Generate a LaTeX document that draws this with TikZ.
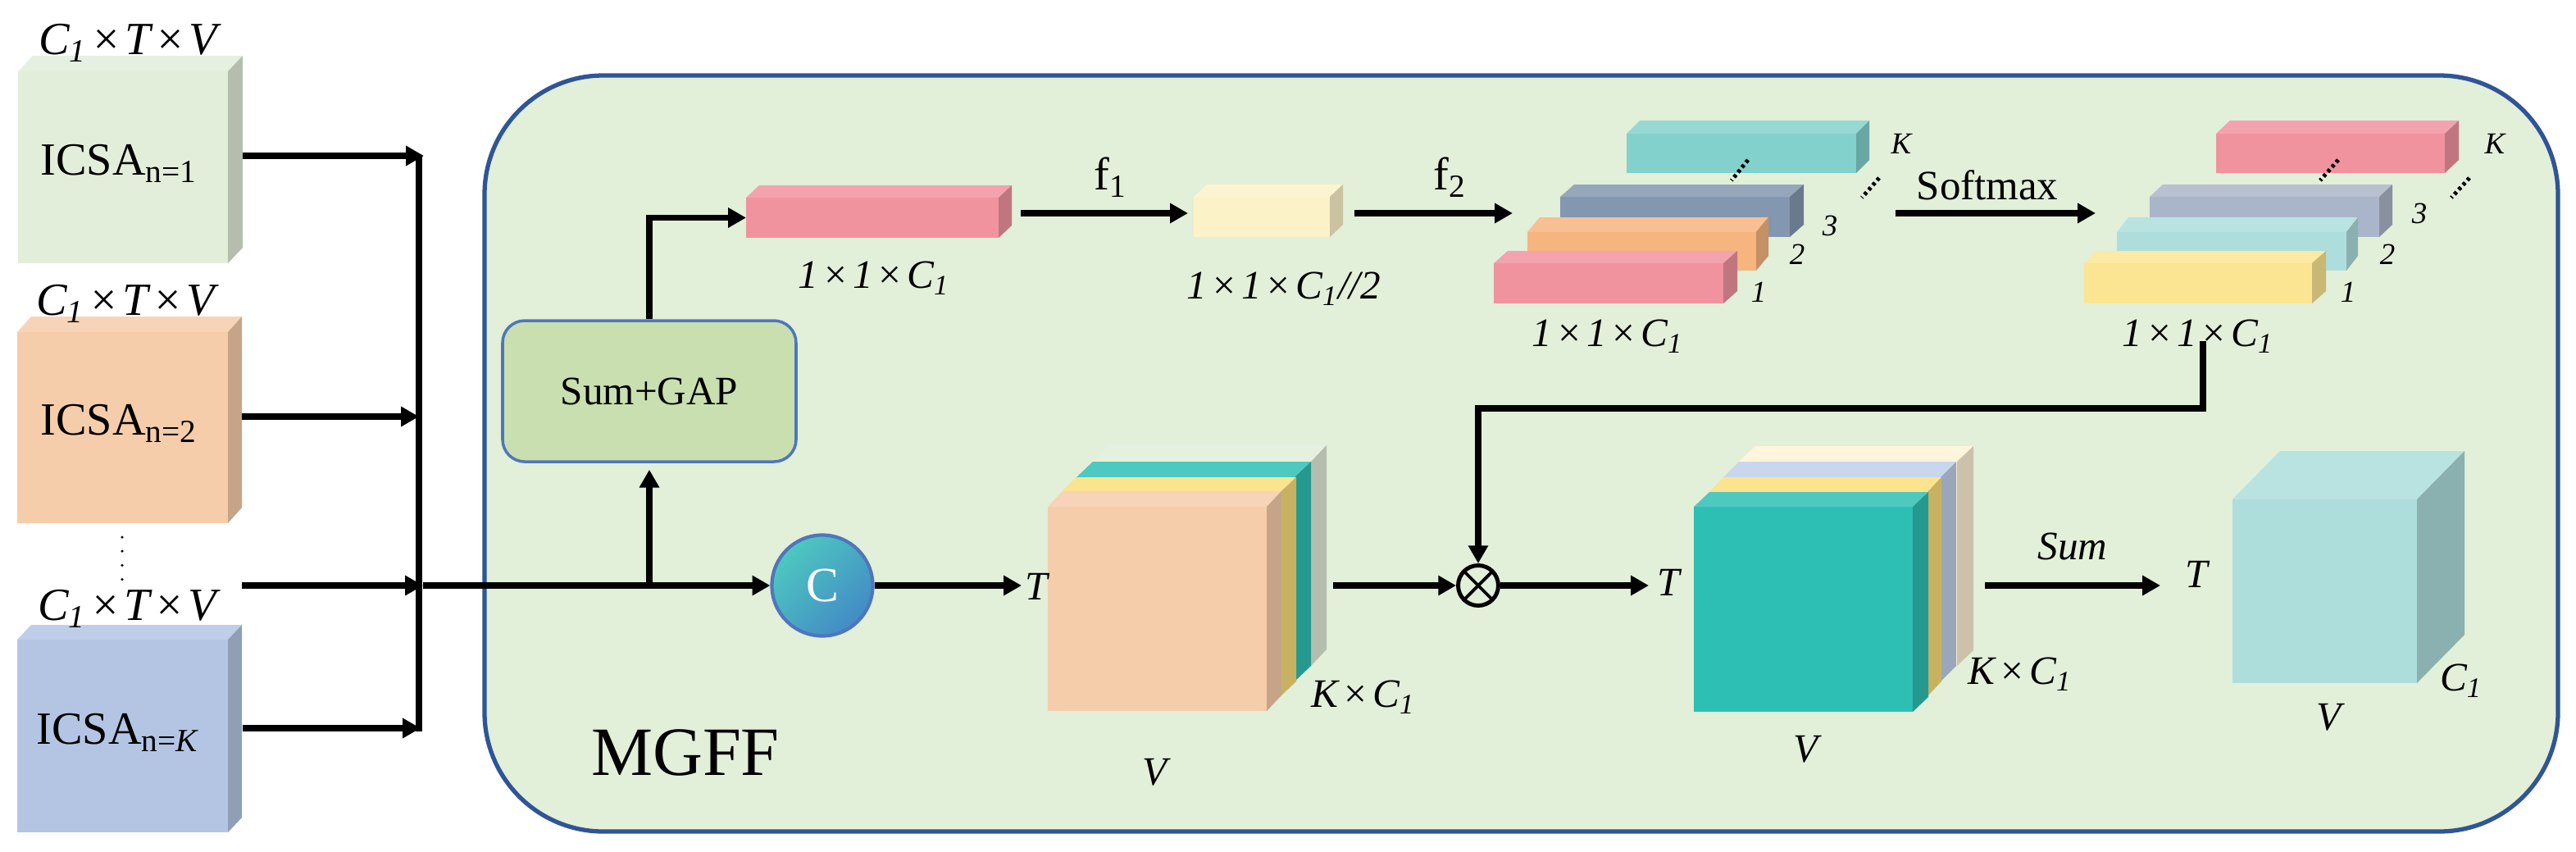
\documentclass[tikz,border=0pt]{standalone}
\usepackage{fontspec}
\setmainfont{Liberation Serif}
\usetikzlibrary{arrows.meta, calc, fit}
\definecolor{Panel}    {HTML}{E2EFD9}
\definecolor{PanelLine}{HTML}{2F5597}
\definecolor{BoxFill}  {HTML}{C9DFB0}
\definecolor{BoxLine}  {HTML}{4F76BC}
\definecolor{Sage}     {HTML}{E2EEDA}
\definecolor{Peach}    {HTML}{F6CDAA}
\definecolor{Periwinkle}{HTML}{B4C5E4}
\definecolor{Rose}     {HTML}{F0939F}
\definecolor{Butter}   {HTML}{FCF2C8}
\definecolor{Apricot}  {HTML}{F6B47F}
\definecolor{Slate}    {HTML}{8497B0}
\definecolor{Lagoon}   {HTML}{83D1CC}
\definecolor{Mist}     {HTML}{ABB5C9}
\definecolor{Aqua}     {HTML}{ADDEDC}
\definecolor{Sunny}    {HTML}{FBE592}
\definecolor{Sun}      {HTML}{FADF7A}
\definecolor{Jade}     {HTML}{2EBFB4}
\definecolor{Powder}   {HTML}{C0D0EA}
\definecolor{Vanilla}  {HTML}{FFF3D6}
\tikzset{
  flow arrow/.style={-{Triangle[length=6.2pt,width=6.6pt]}, line width=2.2pt},
  flow line/.style={line width=2.2pt},
}
\newcommand{\bytimes}{\kern1.2pt×\kern1.2pt}
\newcommand{\Cone}{C\textsubscript{1}}
% name, colour, front nw, front se, depth x, depth y
\newcommand{\slab}[6]{
  \node[fit={(#3)(#4)}, inner sep=0pt, outer sep=0pt, fill=#2] (#1) {};
  \fill[#2!85!white] (#1.north west) -- ++(#5,#6) -- ($(#1.north east)+(#5,#6)$) -- (#1.north east) -- cycle;
  \fill[#2!80!black] (#1.north east) -- ++(#5,#6) -- ($(#1.south east)+(#5,#6)$) -- (#1.south east) -- cycle;
}

\begin{document}
\begin{tikzpicture}[
    panel/.style={draw=PanelLine, fill=Panel, line width=1.5pt, rounded corners=1.45cm,
                  inner sep=0pt, outer sep=0pt},
    gapbox/.style={draw=BoxLine, fill=BoxFill, line width=1pt, rounded corners=0.27cm,
                   minimum width=3.58cm, minimum height=1.72cm,
                   font=\fontsize{14}{16}\selectfont},
    concatnode/.style={circle, draw=BoxLine, line width=1.2pt, minimum size=1.23cm, inner sep=0pt,
                       left color=Jade!85!white, right color=BoxLine!85!cyan, shading angle=45,
                       text=white, font=\fontsize{17}{19}\selectfont},
    mulnode/.style={circle, draw, line width=1.4pt, minimum size=0.49cm, inner sep=0pt,
                    path picture={\draw[line width=1.1pt]
                      (path picture bounding box.north west) -- (path picture bounding box.south east)
                      (path picture bounding box.south west) -- (path picture bounding box.north east);}},
    plain label/.style={inner sep=0pt, font=\fontsize{16}{18}\selectfont},
    dim label/.style={inner sep=0pt, font=\fontsize{16}{18}\selectfont\itshape},
    size label/.style={inner sep=0pt, font=\fontsize{14}{16}\selectfont\itshape},
    idx label/.style={inner sep=0pt, font=\fontsize{10.5}{12}\selectfont\itshape},
    dense dots/.style={line width=1.4pt, dash pattern=on 1.1pt off 1.1pt},
  ]
  \useasboundingbox (0,0) rectangle (31.42,-10.38);
  % Panel
  \node[panel, fit={(5.91,-0.92)(31.20,-10.14)}] (mgff) {};
  \node[inner sep=0pt, font=\fontsize{24}{26}\selectfont] (mgfftext) at (8.36,-9.18) {MGFF};
  % Inputs
  \slab{icsaone}{Sage}{0.22,-0.87}{2.78,-3.21}{0.18}{0.19}
  \slab{icsatwo}{Peach}{0.21,-4.05}{2.78,-6.38}{0.17}{0.19}
  \slab{icsakay}{Periwinkle}{0.21,-7.80}{2.78,-10.15}{0.17}{0.18}
  \node[dim label] (dimone) at (1.56,-0.52) {\Cone\bytimes T\bytimes V};
  \node[dim label] (dimtwo) at (1.53,-3.70) {\Cone\bytimes T\bytimes V};
  \node[dim label] (dimkay) at (1.55,-7.42) {\Cone\bytimes T\bytimes V};
  \node[plain label, anchor=base west] (textone) at (0.49,-2.13) {ICSA\textsubscript{n=1}};
  \node[plain label, anchor=base west] (texttwo) at (0.49,-5.30) {ICSA\textsubscript{n=2}};
  \node[plain label, anchor=base west] (textkay) at (0.44,-9.07) {ICSA\textsubscript{n=\textit{K}}};
  \coordinate (vdots top) at (1.49,-6.55);
  \coordinate (vdots end) at (1.49,-7.07);
  \draw[line width=1pt, line cap=round, dash pattern=on 0pt off 4.9pt] (vdots top) -- (vdots end);
  % Bus
  \coordinate (bus top) at (5.11,-1.90);
  \coordinate (bus two) at (5.11,-5.08);
  \coordinate (bus mid) at (5.16,-7.14);
  \coordinate (bus end) at (5.13,-8.88);
  \coordinate (icsaone out) at (2.96,-1.90);
  \coordinate (icsatwo out) at (2.95,-5.08);
  \coordinate (icsathree out) at (2.95,-7.14);
  \coordinate (icsakay out) at (2.96,-8.88);
  \draw[flow arrow] (icsaone out) -- ($(bus top)+(0.06,0)$);
  \draw[flow arrow] (icsatwo out) -- (bus two);
  \draw[flow arrow] (icsathree out) -- (bus mid);
  \draw[flow arrow] (icsakay out) -- (bus end);
  \draw[flow line] (bus top) -- (5.11,-8.92);
  % Sum+GAP
  \node[gapbox] (sumgap) at (7.92,-4.77) {Sum+GAP};
  \node[concatnode] (concat) at (10.03,-7.14) {C};
  \coordinate (branch) at (sumgap.south |- bus mid);
  \draw[flow arrow] (bus mid) -- (concat.west);
  \draw[flow arrow, shorten >=0.08cm] (branch) -- (sumgap.south);
  % Top row
  \slab{rose}{Rose}{9.10,-2.41}{12.18,-2.90}{0.16}{0.15}
  \slab{butter}{Butter}{14.56,-2.40}{16.22,-2.89}{0.16}{0.15}
  \draw[flow arrow] (sumgap.north) |- (rose.west);
  \node[size label] (roselabel) at (10.66,-3.39) {1\bytimes 1\bytimes \Cone};
  \node[size label] (butterlabel) at (15.66,-3.52) {1\bytimes 1\bytimes \Cone//2};
  \coordinate (rose out) at (12.45,-2.60);
  \coordinate (butter in) at (14.49,-2.60);
  \coordinate (butter out) at (16.52,-2.60);
  \coordinate (keys in) at (18.45,-2.60);
  \draw[flow arrow] (rose out) -- node[above=0.16cm, xshift=0.08cm, inner sep=0pt, font=\fontsize{16}{18}\selectfont] (fone) {f\textsubscript{1}} (butter in);
  \draw[flow arrow] (butter out) -- node[above=0.16cm, xshift=0.2cm, inner sep=0pt, font=\fontsize{16}{18}\selectfont] (ftwo) {f\textsubscript{2}} (keys in);
  % Branch stack
  \slab{keylagoon}{Lagoon}{19.84,-1.63}{22.64,-2.11}{0.16}{0.16}
  \slab{keyslate}{Slate}{19.03,-2.40}{21.83,-2.89}{0.17}{0.15}
  \slab{keyapricot}{Apricot}{18.63,-2.83}{21.42,-3.30}{0.15}{0.18}
  \slab{keyrose}{Rose}{18.22,-3.21}{21.02,-3.70}{0.17}{0.15}
  \node[size label] (keylabel) at (19.61,-4.10) {1\bytimes 1\bytimes \Cone};
  \node[idx label] (keyk) at (23.19,-1.75) {K};
  \node[idx label] (keyc) at (22.32,-2.75) {3};
  \node[idx label] (keyb) at (21.92,-3.10) {2};
  \node[idx label] (keya) at (21.45,-3.56) {1};
  \coordinate (keydots a) at (21.32,-1.95);
  \coordinate (keydots b) at (21.12,-2.20);
  \coordinate (keydots c) at (22.92,-2.17);
  \coordinate (keydots d) at (22.71,-2.41);
  \draw[dense dots] (keydots a) -- (keydots b);
  \draw[dense dots] (keydots c) -- (keydots d);
  % Softmax
  \coordinate (keys out) at (23.12,-2.60);
  \coordinate (probs in) at (25.56,-2.60);
  \draw[flow arrow] (keys out) -- node[above=0.12cm, xshift=-0.1cm, inner sep=0pt, font=\fontsize{14.5}{16}\selectfont] (softmax) {Softmax} (probs in);
  % Weight stack
  \slab{probrose}{Rose}{27.03,-1.63}{29.82,-2.11}{0.17}{0.16}
  \slab{probmist}{Mist}{26.22,-2.40}{29.02,-2.89}{0.16}{0.15}
  \slab{probaqua}{Aqua}{25.82,-2.83}{28.62,-3.30}{0.14}{0.18}
  \slab{probsunny}{Sunny}{25.42,-3.21}{28.20,-3.70}{0.17}{0.15}
  \node[size label] (problabel) at (26.81,-4.10) {1\bytimes 1\bytimes \Cone};
  \node[idx label] (probk) at (30.43,-1.75) {K};
  \node[idx label] (probc) at (29.51,-2.60) {3};
  \node[idx label] (probb) at (29.12,-3.10) {2};
  \node[idx label] (proba) at (28.64,-3.56) {1};
  \coordinate (probdots a) at (28.52,-1.95);
  \coordinate (probdots b) at (28.30,-2.20);
  \coordinate (probdots c) at (30.12,-2.17);
  \coordinate (probdots d) at (29.90,-2.41);
  \draw[dense dots] (probdots a) -- (probdots b);
  \draw[dense dots] (probdots c) -- (probdots d);
  % Concatenated stack
  \slab{catsage}{Sage}{13.33,-5.63}{15.99,-8.12}{0.19}{0.20}
  \slab{catjade}{Jade}{13.13,-5.82}{15.79,-8.31}{0.20}{0.19}
  \slab{catsun}{Sun}{12.95,-5.99}{15.63,-8.48}{0.18}{0.17}
  \slab{catpeach}{Peach}{12.78,-6.18}{15.45,-8.67}{0.18}{0.19}
  \node[size label] (cattee) at (12.64,-7.15) {T};
  \node[size label] (catvee) at (14.09,-9.42) {V};
  \node[size label] (catsize) at (16.63,-8.50) {K\bytimes \Cone};
  \coordinate (cat in) at (12.46,-7.14);
  \coordinate (cat out) at (16.26,-7.14);
  \draw[flow arrow] (concat.east) -- (cat in);
  % Weighted stack
  \slab{outvanilla}{Vanilla}{21.21,-5.63}{23.87,-8.12}{0.20}{0.19}
  \slab{outpowder}{Powder}{21.02,-5.82}{23.67,-8.31}{0.19}{0.19}
  \slab{outsun}{Sun}{20.85,-6.00}{23.51,-8.49}{0.17}{0.18}
  \slab{outjade}{Jade}{20.66,-6.18}{23.33,-8.68}{0.19}{0.18}
  \node[size label] (outtee) at (20.35,-7.10) {T};
  \node[size label] (outvee) at (22.03,-9.14) {V};
  \node[size label] (outsize) at (24.64,-8.22) {K\bytimes \Cone};
  % Multiply
  \node[mulnode] (mul) at (18.03,-7.14) {};
  \coordinate (out in) at (20.11,-7.14);
  \coordinate (probs out) at (26.87,-4.16);
  \coordinate (probs bend) at (18.03,-4.98);
  \draw[flow arrow] (cat out) -- (mul.west);
  \draw[flow arrow] (mul.east) -- (out in);
  \draw[flow arrow] (probs out) |- (probs bend) -- (mul.north);
  % Result
  \slab{cube}{Aqua}{27.23,-6.09}{29.48,-8.33}{0.58}{0.59}
  \coordinate (out out) at (24.21,-7.14);
  \coordinate (cube in) at (26.35,-7.14);
  \draw[flow arrow] (out out) -- node[above=0.27cm, inner sep=0pt, font=\fontsize{14}{16}\selectfont\itshape] (sumlabel) {Sum} (cube in);
  \node[size label] (cubetee) at (26.79,-7.00) {T};
  \node[size label] (cubevee) at (28.41,-8.75) {V};
  \node[size label] (cubesize) at (30.02,-8.30) {\Cone};
\end{tikzpicture}
\end{document}
